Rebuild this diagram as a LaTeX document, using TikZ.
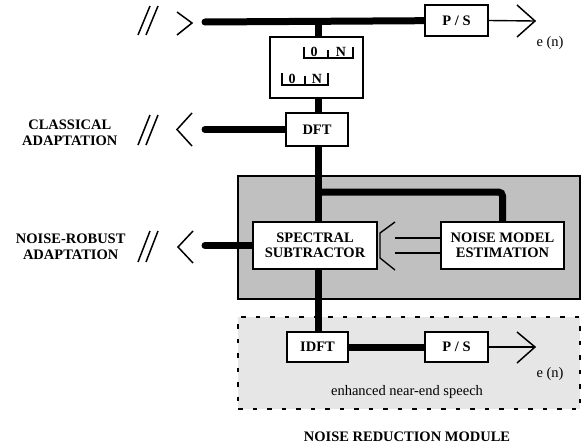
\documentclass[tikz,border=0pt]{standalone}
\usepackage{fontspec}
\setmainfont{Liberation Serif}
\usepackage{tikz}
\usetikzlibrary{positioning}
\definecolor{panel}{HTML}{C0C0C0}
\definecolor{haze}{HTML}{E6E6E6}

\begin{document}
\begin{tikzpicture}[x=1pt,y=-1pt,
  every node/.style={font=\fontsize{14.5}{16}\selectfont},
  blk/.style={draw,line width=1.6pt,fill=white,inner sep=0pt,align=center,font=\fontsize{14.5}{15.5}\selectfont\bfseries},
  tag/.style={align=center,font=\fontsize{14.5}{15.5}\selectfont\bfseries},
  bus/.style={line width=7pt},
  wire/.style={line width=1.4pt},
  chev/.style={line width=1.5pt},
  brk/.style={line width=1.3pt},
  digit/.style={inner sep=0pt,font=\fontsize{14}{15}\selectfont\bfseries}]
  \useasboundingbox (0,0) rectangle (583,447);

  % module panels
  \node[draw,line width=1.5pt,fill=panel,minimum width=342pt,minimum height=123pt,inner sep=0pt] (module) at (409,237.5) {};
  \node[draw,line width=1.5pt,dash pattern=on 4.5pt off 10pt,fill=haze,minimum width=342pt,minimum height=92pt,inner sep=0pt] (speech) at (409,363) {};

  % free ends
  \coordinate (inTop) at (205,22);
  \coordinate (outCl) at (205,129.5);
  \coordinate (outNr) at (205,245.5);
  \coordinate (tap) at (318,22);
  \coordinate (split) at (318,192);
  \coordinate (tipTop) at (535,21);
  \coordinate (tipBot) at (535,347);

  % block places
  \coordinate (frame) at (316.5,67.5);
  \coordinate (psTop) at (456.5,20.5);
  \coordinate (dft) at (317,129.5);
  \coordinate (spec) at (315,245.5);
  \coordinate (noise) at (502.5,245.5);
  \coordinate (idft) at (317.5,347);
  \coordinate (psBot) at (456.5,347);

  % thick buses
  \draw[bus,line cap=round] (inTop) -- (psTop);
  \draw[bus] (tap) -- (frame -| tap);
  \draw[bus] (frame -| tap) -- (dft -| tap);
  \draw[bus] (dft -| tap) -- (spec -| tap);
  \draw[bus,rounded corners=4pt] (split) -- (split -| noise) -- (noise);
  \draw[bus,line cap=round] (outCl) -- (dft);
  \draw[bus,line cap=round] (outNr) -- (spec);
  \draw[bus] (spec -| tap) -- (idft -| tap);
  \draw[bus] (idft) -- (psBot);

  % blocks over the buses
  \node[blk,minimum width=93pt,minimum height=61pt] (frameBox) at (frame) {};
  \node[blk,minimum width=63pt,minimum height=31pt] (psTopBox) at (psTop) {P / S};
  \node[blk,minimum width=62pt,minimum height=33pt] (dftBox) at (dft) {DFT};
  \node[blk,minimum width=124pt,minimum height=47pt] (specBox) at (spec) {SPECTRAL\\SUBTRACTOR};
  \node[blk,minimum width=123pt,minimum height=47pt] (noiseBox) at (noise) {NOISE MODEL\\ESTIMATION};
  \node[blk,minimum width=61pt,minimum height=30pt] (idftBox) at (idft) {IDFT};
  \node[blk,minimum width=63pt,minimum height=30pt] (psBotBox) at (psBot) {P / S};

  % frame brackets
  \draw[brk] (304,47) -- (304,58) -- (353,58) -- (353,47);
  \draw[brk] (328,50) -- (328,58);
  \node[digit] (zeroA) at (314,52) {0};
  \node[digit] (nA) at (341,52) {N};
  \draw[brk] (282,73) -- (282,85) -- (328,85) -- (328,73);
  \draw[brk] (305,76) -- (305,85);
  \node[digit] (zeroB) at (292,79) {0};
  \node[digit] (nB) at (317,79) {N};

  % hollow arrow from noise model
  \draw[wire] (noiseBox.west |- 0,238) -- (395,238);
  \draw[wire] (noiseBox.west |- 0,253) -- (395,253);
  \draw[wire,line join=miter] (395,222) -- (380,233) -- (380,258) -- (395,270);

  % outputs
  \draw[wire] (psTopBox.east) -- (tipTop);
  \draw[chev] (517,5) -- (tipTop) -- (517,37);
  \node (enTop) at (550,43) {e (n)};
  \draw[wire] (psBotBox.east) -- (tipBot);
  \draw[chev] (517,332) -- (tipBot) -- (517,363);
  \node (enBot) at (550,374) {e (n)};
  \node (near) at (407,392) {enhanced near-end speech};

  % ports on the left
  \draw[chev] (177,12) -- (192,23) -- (177,35);
  \draw[chev] (138,35) -- (150,6) (146,35) -- (158,6);
  \draw[chev] (192,113) -- (177,129.5) -- (192,146);
  \draw[chev] (138,145) -- (150,115) (146,145) -- (158,115);
  \node[tag,anchor=east] (classic) at (121,133) {CLASSICAL\\ADAPTATION};
  \draw[chev] (193,231) -- (178,247) -- (193,263);
  \draw[chev] (138,262) -- (150,231) (146,262) -- (158,231);
  \node[tag,anchor=east] (robust) at (129,247) {NOISE-ROBUST\\ADAPTATION};

  \node[tag] (title) at (407,437) {NOISE REDUCTION MODULE};
\end{tikzpicture}
\end{document}
